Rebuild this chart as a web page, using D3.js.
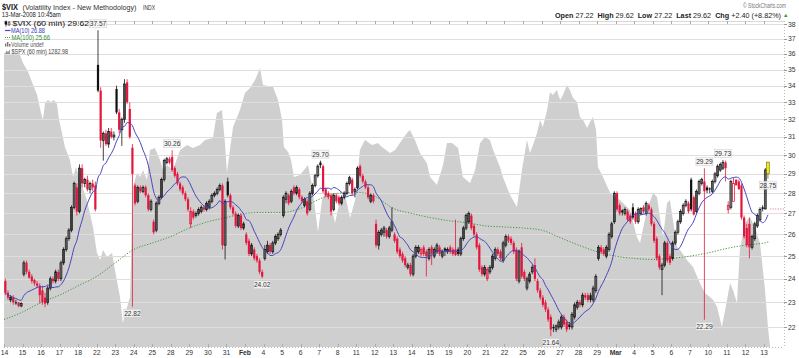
<!DOCTYPE html>
<html><head><meta charset="utf-8">
<script src="https://cdn.jsdelivr.net/npm/d3@7"></script>
<style>
body{margin:0;background:#fff}
svg{display:block}
text{font-family:"Liberation Sans",Arial,sans-serif}
</style>
</head><body>
<svg id="c" width="799" height="358"></svg>
<script>
// ---------- DATA ----------
const dayLabels = ["14","15","16","17","18","22","23","24","25","28","29","30","31","Feb","4","5","6","7","8","11","12","13","14","15","19","20","21","22","25","26","27","28","29","Mar","4","5","6","7","10","11","12","13"];
const barsPerDay = 7;
const yTicks = [22,23,24,25,26,27,28,29,30,31,32,33,34,35,36,37,38];

const opens = [
23.9,23.4,23.1,23.2,23.0,23.0,22.85,
24.2,24.7,24.3,24.1,23.95,23.8,23.7,
23.5,23.2,23.0,23.6,24.0,23.9,24.3,
24.0,24.7,25.3,25.8,26.2,27.3,28.3,
27.1,29.3,28.5,28.7,28.2,28.5,28.4,
35.3,33.7,30.8,31.2,30.6,31.3,31.0,
33.8,32.4,31.4,32.0,34.2,32.6,30.4,
28.4,27.6,28.3,28.1,28.3,27.9,27.2,
26.6,26.2,27.5,27.8,28.7,29.6,29.8,
29.9,29.3,29.0,28.5,28.3,28.0,27.7,
26.5,27.1,26.9,27.0,27.1,27.3,27.2,
27.3,27.6,27.9,28.0,28.2,28.4,25.5,
28.6,27.9,27.3,27.0,26.4,26.9,26.3,
26.0,25.7,25.1,25.3,25.0,24.8,24.3,
24.9,25.2,25.5,25.2,25.6,25.8,26.0,
26.9,27.7,27.9,27.6,28.3,28.0,28.2,
27.8,27.4,27.6,27.2,28.0,28.4,28.9,
29.6,29.4,28.2,28.0,27.9,27.2,27.9,
27.8,27.5,27.8,28.0,28.5,28.7,28.1,
28.3,29.4,28.9,28.6,28.3,27.6,27.9,
26.5,25.5,26.0,26.1,26.2,25.9,26.2,
26.0,25.8,25.3,25.1,24.9,24.5,24.6,
24.2,25.0,25.2,25.1,25.4,25.2,24.9,
25.4,25.0,25.2,25.4,25.0,25.35,25.2,
25.4,25.3,25.3,25.3,25.1,25.8,26.3,
26.6,26.9,26.4,26.0,25.5,24.5,24.2,
24.0,24.3,24.5,24.9,25.3,25.2,24.8,
25.5,25.9,25.8,25.6,25.3,23.9,25.4,
24.3,23.6,23.9,24.3,24.6,23.9,23.5,
23.2,23.0,22.7,22.4,22.0,21.9,22.0,
22.0,22.4,22.2,22.1,22.0,22.4,22.8,
23.0,22.9,23.3,23.3,23.3,23.1,23.5,
24.9,25.4,25.3,25.0,25.3,25.9,26.6,
28.0,27.4,27.15,27.0,27.1,26.9,27.3,
27.0,26.6,27.0,27.3,27.0,27.4,27.2,
26.5,25.8,25.0,24.4,24.6,25.6,25.0,
24.9,25.6,26.1,26.6,27.0,27.4,27.5,
28.7,27.8,27.1,28.0,28.5,28.6,28.3,
28.25,28.1,28.6,28.9,29.2,29.3,29.6,
27.2,27.3,27.6,28.7,28.6,28.4,26.8,
26.3,26.5,25.4,25.8,26.4,26.7,27.3,
27.22,29.0];
const highs = [
24.0,23.5,23.3,23.3,23.1,23.0,23.0,
24.8,24.8,24.4,24.2,24.0,23.9,23.8,
23.7,23.4,23.7,24.1,24.1,24.4,24.4,
24.8,25.4,25.9,26.3,27.4,28.6,28.5,
29.5,29.5,28.8,28.9,28.6,28.7,28.6,
37.57,33.9,31.3,31.4,31.5,31.5,31.3,
34.0,32.6,32.1,34.4,34.4,33.0,30.6,
28.5,28.4,28.4,28.4,28.4,28.0,27.7,
26.7,27.6,27.9,28.8,29.8,29.9,29.9,
30.26,29.4,29.1,28.6,28.4,28.1,27.8,
27.3,27.2,27.1,27.3,27.4,27.4,27.6,
27.7,28.0,28.1,28.3,28.5,28.5,27.7,
28.8,28.0,27.4,27.1,27.0,27.0,26.6,
26.1,25.8,25.6,25.4,25.1,24.9,24.4,
25.5,25.7,25.6,25.7,26.0,26.1,26.3,
27.9,28.1,28.0,28.2,28.4,28.4,28.3,
27.9,27.8,27.7,28.1,28.5,29.0,29.5,
29.7,29.5,28.3,28.1,28.0,28.0,28.0,
27.9,27.9,28.1,28.6,28.9,28.8,28.3,
29.4,29.5,29.0,28.7,28.4,28.0,28.0,
26.7,26.2,26.3,26.4,26.3,26.4,27.3,
26.1,25.9,25.4,25.2,25.0,24.7,24.7,
25.1,25.5,25.5,25.4,25.5,25.3,25.4,
25.5,25.4,25.6,25.5,25.3,25.4,25.4,
25.5,25.4,26.7,25.4,25.9,26.4,27.0,
27.1,27.0,26.5,26.1,25.6,24.6,24.6,
24.5,24.6,25.1,25.4,25.4,25.3,25.7,
26.0,26.0,25.9,25.7,25.4,25.3,25.6,
24.4,24.1,24.3,24.6,24.9,24.0,23.6,
23.3,23.1,22.8,22.5,22.1,22.1,22.3,
22.5,22.5,22.3,22.2,22.6,23.0,23.1,
23.1,23.4,23.4,23.4,23.4,23.7,24.2,
25.5,25.5,25.4,25.5,26.1,26.6,28.1,
28.1,27.5,27.2,27.3,27.2,27.0,27.5,
27.1,27.3,27.3,27.4,27.6,27.5,27.3,
26.6,25.9,25.1,24.7,25.7,25.7,25.1,
25.7,26.2,26.7,27.2,27.5,27.7,27.6,
28.8,27.9,28.2,28.7,28.8,29.29,28.4,
28.3,28.7,29.1,29.5,29.6,29.73,29.7,
27.6,28.7,28.8,28.7,28.7,28.5,26.9,
26.5,26.8,26.0,26.6,27.0,27.3,27.4,
29.3,29.62];
const lows = [
23.3,23.1,23.0,22.9,22.9,22.8,22.8,
24.1,24.2,24.0,23.8,23.7,23.6,22.95,
22.9,22.8,22.9,23.5,23.8,23.8,23.9,
23.9,24.6,25.2,25.7,26.1,27.2,26.9,
27.0,28.3,28.3,28.1,28.0,28.1,27.1,
33.6,30.4,29.7,30.5,30.4,30.9,30.8,
32.3,31.2,30.5,31.8,32.9,30.9,22.82,
27.4,27.5,28.0,28.0,27.8,27.1,27.1,
26.0,26.1,27.4,27.7,28.6,29.5,29.5,
29.1,28.8,28.4,28.1,27.9,27.6,27.1,
26.3,26.7,26.8,26.9,27.0,27.1,27.1,
27.2,27.5,27.8,27.9,28.1,25.3,24.85,
27.8,27.2,26.9,26.3,26.3,26.2,26.2,
25.5,25.0,25.0,24.8,24.7,24.2,24.02,
24.8,25.1,25.1,25.1,25.5,25.7,25.9,
26.8,27.5,27.4,27.5,27.9,27.9,27.7,
27.5,27.3,26.9,27.1,27.9,28.3,28.8,
29.3,28.0,27.8,27.7,26.9,27.1,27.5,
27.4,27.4,27.7,27.9,28.4,27.9,27.8,
28.2,28.8,28.5,28.2,27.7,27.5,27.5,
25.4,25.3,25.9,25.9,25.8,25.8,26.1,
25.6,25.1,24.9,24.7,24.5,24.4,24.1,
24.1,24.9,25.1,25.0,25.0,24.1,24.8,
24.6,24.9,25.1,25.0,24.9,25.0,25.1,
25.1,25.0,25.0,25.0,25.0,25.7,26.2,
26.5,26.2,25.9,25.3,24.3,24.1,24.1,
23.9,24.2,24.4,24.8,25.0,24.8,24.7,
25.4,25.6,25.5,25.1,23.9,23.8,24.0,
23.9,23.5,23.8,24.2,23.9,23.4,23.1,
22.8,22.6,22.2,21.64,21.8,21.8,21.9,
21.9,22.0,21.8,21.9,21.9,22.3,22.7,
22.8,22.8,23.1,23.0,23.0,23.0,23.4,
24.8,25.1,25.0,24.9,25.2,25.8,26.5,
27.1,26.9,26.9,26.9,26.6,26.5,26.7,
26.5,26.5,26.9,27.0,26.9,27.1,26.4,
25.6,24.8,24.4,23.3,24.5,24.7,24.6,
24.8,25.5,26.0,26.5,26.9,27.3,27.0,
27.1,26.9,27.0,27.9,28.4,22.29,28.0,
28.0,28.0,28.5,28.8,29.1,29.2,28.6,
27.0,27.2,28.5,28.5,28.2,26.7,25.8,
25.4,24.9,25.3,25.7,26.3,26.6,27.1,
27.2,28.75];
const closes = [
23.4,23.2,23.2,23.0,23.0,22.85,22.95,
24.7,24.3,24.05,23.9,23.8,23.7,23.3,
23.0,22.95,23.6,24.0,23.9,24.3,24.0,
24.7,25.3,25.8,26.2,27.3,28.5,27.1,
29.3,28.5,28.7,28.2,28.5,28.3,27.2,
33.7,30.8,31.2,30.6,31.3,31.0,31.1,
32.4,31.4,32.0,34.1,33.0,31.0,29.0,
27.5,28.3,28.1,28.3,27.9,27.2,27.6,
26.1,27.5,27.8,28.7,29.7,29.8,29.6,
29.2,28.9,28.5,28.2,28.0,27.7,27.2,
27.1,26.8,27.0,27.2,27.3,27.2,27.5,
27.6,27.9,28.0,28.2,28.4,25.5,27.6,
27.9,27.3,27.0,26.4,26.9,26.3,26.5,
25.6,25.1,25.5,24.9,24.8,24.3,24.1,
25.3,25.5,25.2,25.6,25.9,26.0,26.2,
27.8,28.0,27.5,28.1,28.0,28.3,27.8,
27.6,27.7,27.0,28.0,28.4,28.9,29.4,
29.45,28.1,27.9,27.8,27.1,27.9,27.6,
27.5,27.8,28.0,28.5,28.8,28.0,28.2,
29.3,28.9,28.6,28.3,27.8,27.9,27.6,
25.5,26.1,26.2,26.3,25.9,26.3,26.6,
25.7,25.2,25.0,24.8,24.6,24.6,24.2,
25.0,25.4,25.4,25.3,25.1,25.0,25.3,
25.1,25.3,25.5,25.1,25.2,25.25,25.3,
25.2,25.1,25.05,25.1,25.8,26.3,26.9,
27.0,26.3,26.0,25.4,24.4,24.2,24.5,
24.4,24.5,25.0,25.3,25.1,24.9,25.6,
25.9,25.7,25.6,25.2,24.0,25.2,24.1,
24.0,24.0,24.2,24.5,24.0,23.5,23.2,
22.9,22.7,22.3,21.9,21.95,22.05,22.2,
22.4,22.1,21.9,22.0,22.5,22.9,23.0,
22.9,23.3,23.2,23.1,23.1,23.6,24.1,
25.4,25.2,25.1,25.4,26.0,26.5,28.0,
27.2,27.0,27.05,27.2,26.7,26.6,26.8,
26.6,27.2,27.25,27.1,27.5,27.2,26.5,
25.7,24.9,24.5,24.6,25.6,24.8,24.7,
25.6,26.1,26.6,27.1,27.4,27.6,27.1,
27.2,26.95,28.1,28.6,28.7,28.1,28.15,
28.2,28.6,29.0,29.4,29.5,29.6,29.3,
27.4,28.6,28.5,28.4,28.2,26.8,25.9,
25.5,25.4,25.9,26.5,26.9,27.2,27.22,
29.2,29.62];

// 100-period moving average, read at the start of each day, plus the last bar
const ma100Bars = [0,7,14,21,28,35,42,49,56,63,70,77,84,91,98,105,112,119,126,133,140,147,154,161,168,175,182,189,196,203,210,217,224,231,238,245,252,259,266,273,280,287,289];
const ma100Vals = [22.3,22.6,23.0,23.3,23.7,24.1,24.7,25.3,25.6,25.9,26.3,26.6,26.8,27.0,27.05,27.05,27.25,27.7,28.0,28.05,27.85,27.25,27.0,26.8,26.65,26.55,26.4,26.35,26.3,26.2,25.85,25.5,25.2,25.0,24.9,24.85,24.9,25.0,25.15,25.35,25.5,25.6,25.66];

// $SPX overlay (area), sampled along the bar axis
const spxBars = [0,6.0,7.2,9.1,11.0,12.5,14.0,14.7,15.5,16.6,17.7,18.9,20.0,20.8,21.9,23.0,24.9,26.1,27.2,28.7,31.3,33.6,35.1,36.3,37.4,38.9,40.8,41.9,43.8,44.9,46.5,47.6,48.7,50.2,51.4,52.5,54.0,55.1,57.0,58.9,60.0,61.6,63.8,66.5,69.1,71.4,74.0,75.9,78.9,80.4,82.3,83.5,84.2,85.3,86.5,89.1,91.0,92.9,94.8,96.7,97.8,101.6,103.5,105.0,105.7,107.3,108.4,109.5,111.8,113.3,114.8,116.3,118.6,120.1,121.6,123.1,125.0,126.9,128.8,130.7,132.6,134.4,136.3,139.0,141.2,142.7,145.8,147.7,149.5,152.2,153.3,155.2,157.1,159.7,160.9,163.5,165.8,167.3,169.2,171.5,173.3,176.0,177.9,179.8,181.6,183.5,184.7,187.3,188.4,191.1,193.7,195.6,197.5,198.6,199.8,201.3,202.4,203.5,205.1,206.2,207.3,208.8,210.0,211.1,212.6,213.7,214.9,216.4,217.5,218.7,220.2,221.3,222.4,223.6,224.3,226.2,228.9,232.6,236.4,239.0,240.2,242.8,245.1,246.6,247.7,248.9,250.4,251.5,252.6,254.2,255.3,257.9,260.2,262.8,264.7,266.6,267.8,269.3,271.1,272.7,274.2,275.3,276.8,277.9,279.8,281.7,283.6,285.5,287.4,288.5,289.3];
const spxVals = [1415.8,1414.7,1410.5,1405.6,1398.6,1393.3,1383.6,1379.9,1389.0,1390.6,1389.5,1390.6,1388.4,1379.9,1372.9,1365.4,1358.4,1349.3,1354.6,1347.6,1336.9,1322.4,1308.5,1304.7,1310.1,1306.3,1308.5,1299.3,1284.8,1270.9,1279.5,1284.8,1343.9,1351.4,1349.3,1353.0,1347.6,1363.8,1364.8,1358.4,1353.0,1355.7,1353.0,1363.8,1366.4,1364.8,1366.4,1369.1,1370.2,1383.6,1385.2,1366.4,1351.4,1363.8,1376.1,1385.2,1394.3,1397.0,1401.3,1407.8,1398.6,1397.6,1390.6,1379.9,1365.4,1362.7,1358.4,1349.3,1350.3,1353.0,1355.7,1345.0,1319.7,1336.9,1342.3,1336.9,1324.6,1336.9,1339.6,1327.3,1336.9,1363.8,1369.1,1366.4,1367.5,1365.4,1362.1,1363.8,1367.5,1372.9,1374.5,1369.1,1362.1,1356.8,1349.3,1345.0,1355.7,1367.5,1367.5,1364.8,1349.3,1346.0,1353.0,1367.5,1370.7,1369.1,1363.8,1354.6,1349.3,1339.6,1333.2,1353.0,1369.1,1362.1,1366.4,1372.9,1379.9,1376.1,1385.2,1394.9,1393.3,1396.0,1390.6,1393.3,1398.6,1396.0,1391.7,1389.5,1381.5,1379.9,1375.6,1378.8,1381.5,1374.5,1354.6,1349.3,1340.7,1336.9,1331.5,1317.1,1313.8,1331.5,1340.7,1338.5,1327.8,1317.1,1335.3,1336.9,1326.2,1311.7,1310.1,1304.7,1300.9,1292.4,1287.0,1284.8,1283.2,1279.5,1268.7,1280.5,1292.4,1288.6,1281.6,1310.1,1324.6,1327.8,1321.9,1313.8,1288.6,1268.7,1258.0];

// labelled swing highs / lows
const markBars = [35,63,119,264,271,48,97,206,264,288];
const markVals = [37.57,30.26,29.70,29.29,29.73,22.82,24.02,21.64,22.29,28.75];
const markSide = ["hi","hi","hi","hi","hi","lo","lo","lo","lo","lo"];
const prevClose = 27.22;

// ---------- CHART ----------
const svg = d3.select("#c");
const L = 4, R = 784, T = 21, B = 347;
const nBars = closes.length;
const x = d3.scaleLinear().domain([0, 289]).range([4, 4 + 2.648 * 289]);
const y = d3.scaleLog().domain([38, 22]).range([24, 327]);
const ys = d3.scaleLinear().domain([1258, 1433]).range([B, T]);

svg.append("defs").append("clipPath").attr("id","pc")
  .append("rect").attr("x",L).attr("y",T).attr("width",R-L).attr("height",B-T);
const g = svg.append("g").attr("clip-path","url(#pc)");

// SPX area
const spx = spxBars.map((b,k)=>({b, v: spxVals[k]}));
g.append("path").datum(spx)
  .attr("d", d3.area().x(d=>x(d.b)).y0(B).y1(d=>ys(d.v)))
  .attr("fill","#cfcfcf");

// horizontal grid
g.selectAll("line.grid").data(yTicks).join("line")
  .attr("x1",L).attr("x2",R).attr("y1",d=>Math.round(y(d))+0.5).attr("y2",d=>Math.round(y(d))+0.5)
  .attr("stroke","#e3dcdc").attr("stroke-width",1);

// frame
svg.append("line").attr("x1",L).attr("x2",R).attr("y1",T+0.5).attr("y2",T+0.5).attr("stroke","#d8d8d8");
svg.append("line").attr("x1",L).attr("x2",R).attr("y1",B+0.5).attr("y2",B+0.5).attr("stroke","#bbb").attr("stroke-dasharray","1,2");
svg.append("line").attr("x1",R+0.5).attr("x2",R+0.5).attr("y1",T).attr("y2",B).attr("stroke","#bbb").attr("stroke-dasharray","1,2");

// day ticks
const dayIdx = d3.range(dayLabels.length);
svg.selectAll("line.dt").data(dayIdx).join("line")
  .attr("x1",d=>Math.round(x(d*barsPerDay))+0.5).attr("x2",d=>Math.round(x(d*barsPerDay))+0.5)
  .attr("y1",T).attr("y2",T+3).attr("stroke","#aaa");
svg.selectAll("line.db").data(dayIdx).join("line")
  .attr("x1",d=>Math.round(x(d*barsPerDay))+0.5).attr("x2",d=>Math.round(x(d*barsPerDay))+0.5)
  .attr("y1",B-3).attr("y2",B).attr("stroke","#aaa");

// MA(100)
g.append("path").datum(ma100Bars.map((b,k)=>({b, v: ma100Vals[k]})))
  .attr("d", d3.line().x(d=>x(d.b)).y(d=>y(d.v)).curve(d3.curveMonotoneX))
  .attr("fill","none").attr("stroke","#3a9a3a").attr("stroke-width",1).attr("stroke-dasharray","1.2,1.6");

// candles
const RED = "#e3173e", BLK = "#111";
const bars = d3.range(nBars).map(i=>({i, o:opens[i], h:highs[i], l:lows[i], c:closes[i], pc: i>0?closes[i-1]:opens[i]}));
const cg = g.append("g");
bars.forEach(d=>{
  const last = d.i === nBars-1;
  const col = last ? "#6b6b00" : (d.c >= d.pc ? BLK : RED);
  const cx = x(d.i + 0.5);
  cg.append("line").attr("x1",cx).attr("x2",cx).attr("y1",y(d.h)).attr("y2",y(d.l))
    .attr("stroke",col).attr("stroke-width",0.8);
  const top = y(Math.max(d.o,d.c)), bot = y(Math.min(d.o,d.c));
  const hgt = Math.max(1, bot-top);
  const hollow = d.c >= d.o;
  if (last) {
    cg.append("rect").attr("x",cx-1.3).attr("y",top).attr("width",2.6).attr("height",hgt)
      .attr("fill","#f0ee10").attr("stroke",col).attr("stroke-width",0.6);
  } else if (hollow && hgt > 1.5) {
    cg.append("rect").attr("x",cx-0.95).attr("y",top).attr("width",1.9).attr("height",hgt)
      .attr("fill","none").attr("stroke",col).attr("stroke-width",0.75);
  } else {
    cg.append("rect").attr("x",cx-1.1).attr("y",top).attr("width",2.2).attr("height",hgt)
      .attr("fill",col);
  }
});

// MA(10) computed from closes
const ma10 = closes.map((c,i)=>{ const s = closes.slice(Math.max(0,i-9), i+1); return d3.mean(s); });
g.append("path").datum(ma10)
  .attr("d", d3.line().x((d,i)=>x(i+0.5)).y(d=>y(d)).curve(d3.curveMonotoneX))
  .attr("fill","none").attr("stroke","#4646c0").attr("stroke-width",1);

// previous close marker
svg.append("line").attr("x1",x(nBars)+1).attr("x2",R).attr("y1",y(prevClose)).attr("y2",y(prevClose))
  .attr("stroke","#d77090").attr("stroke-dasharray","1,1.5");

// high/low labels
markBars.forEach((b,k)=>{
  const v = markVals[k], hi = markSide[k]==="hi";
  const tx = Math.min(x(b+0.5), 776);
  const ty = hi ? y(v)-4 : y(v)+9;
  svg.append("rect").attr("x",tx-8.5).attr("y",ty-6.5).attr("width",17).attr("height",8)
    .attr("fill","#f6f6f6").attr("fill-opacity",0.85).attr("stroke","#c9c9c9").attr("stroke-width",0.5);
  svg.append("text").attr("x",tx).attr("y",ty).attr("text-anchor","middle")
    .attr("font-size",6.6).attr("fill","#333").text(v.toFixed(2));
});

// right axis
svg.selectAll("line.yt").data(yTicks).join("line")
  .attr("x1",R).attr("x2",R+3).attr("y1",d=>Math.round(y(d))+0.5).attr("y2",d=>Math.round(y(d))+0.5).attr("stroke","#999");
svg.selectAll("text.yl").data(yTicks).join("text")
  .attr("x",788).attr("y",d=>y(d)+2.5).attr("font-size",6.8).attr("fill","#333").text(d=>d);

// x labels
svg.selectAll("text.xl").data(dayIdx).join("text")
  .attr("x",d=>Math.max(4.5, x(d*barsPerDay))).attr("y",355).attr("text-anchor","middle")
  .attr("font-size",6.8).attr("fill","#333")
  .attr("font-weight",d=>(dayLabels[d]==="Feb"||dayLabels[d]==="Mar")?"bold":"normal")
  .text(d=>dayLabels[d]);

// header
svg.append("text").attr("x",2).attr("y",9.5).attr("font-size",9.5).attr("font-weight","bold")
  .attr("textLength",16).attr("lengthAdjust","spacingAndGlyphs").attr("fill","#111").text("$VIX");
svg.append("text").attr("x",22.5).attr("y",9.5).attr("font-size",7.4)
  .attr("textLength",114).attr("lengthAdjust","spacingAndGlyphs").attr("fill","#333").text("(Volatility Index - New Methodology)");
svg.append("text").attr("x",143).attr("y",9.5).attr("font-size",6.4)
  .attr("textLength",12).attr("lengthAdjust","spacingAndGlyphs").attr("fill","#333").text("INDX");
svg.append("text").attr("x",1.8).attr("y",17.2).attr("font-size",7)
  .attr("textLength",59).attr("lengthAdjust","spacingAndGlyphs").attr("fill","#222").text("13-Mar-2008 10:45am");
svg.append("text").attr("x",786).attr("y",7.8).attr("text-anchor","end").attr("font-size",6.4)
  .attr("textLength",43).attr("lengthAdjust","spacingAndGlyphs").attr("fill","#777").text("\u00a9 StockCharts.com");
const hdr = svg.append("text").attr("x",781).attr("y",17.5).attr("text-anchor","end").attr("font-size",7.3).attr("fill","#222")
  .attr("textLength",226).attr("lengthAdjust","spacingAndGlyphs");
[["Open",true],[" 27.22  ",false],["High",true],[" 29.62  ",false],["Low",true],[" 27.22  ",false],["Last",true],[" 29.62  ",false],["Chg",true],[" +2.40 (+8.82%)",false]]
  .forEach(([t,b])=>hdr.append("tspan").attr("font-weight",b?"bold":"normal").attr("xml:space","preserve").text(t));
svg.append("text").attr("x",783).attr("y",17.3).attr("font-size",5.5).attr("fill","#2a9a2a").text("\u25B2");

// legend
const lg = svg.append("g");
lg.append("line").attr("x1",6).attr("x2",6).attr("y1",20.5).attr("y2",26.5).attr("stroke","#111").attr("stroke-width",0.8);
lg.append("rect").attr("x",5).attr("y",21.5).attr("width",2).attr("height",3).attr("fill","#111");
lg.append("line").attr("x1",9).attr("x2",9).attr("y1",21).attr("y2",26).attr("stroke","#555").attr("stroke-width",0.8);
lg.append("rect").attr("x",8).attr("y",22.5).attr("width",2).attr("height",2.5).attr("fill","none").attr("stroke","#555").attr("stroke-width",0.6);
lg.append("text").attr("x",12.5).attr("y",25.8).attr("font-family","'DejaVu Sans Mono',monospace").attr("font-size",7.4)
  .attr("textLength",76.5).attr("lengthAdjust","spacingAndGlyphs").attr("fill","#111").text("$VIX (60 min) 29.62");
lg.append("line").attr("x1",5).attr("x2",10.5).attr("y1",30.5).attr("y2",30.5).attr("stroke","#4646c0").attr("stroke-width",1.2);
lg.append("text").attr("x",11).attr("y",32.6).attr("font-size",6.8).attr("textLength",34).attr("lengthAdjust","spacingAndGlyphs")
  .attr("fill","#3535b5").text("MA(10) 26.88");
lg.append("line").attr("x1",5).attr("x2",11).attr("y1",37.5).attr("y2",37.5).attr("stroke","#3a9a3a").attr("stroke-width",1).attr("stroke-dasharray","1,1");
lg.append("text").attr("x",11.5).attr("y",39.6).attr("font-size",6.8).attr("textLength",38.5).attr("lengthAdjust","spacingAndGlyphs")
  .attr("fill","#2e8b2e").text("MA(100) 25.66");
[[5,43.5,3],[7,42,4.5],[9,44,2.5]].forEach(([bx,by,bh])=>lg.append("rect").attr("x",bx).attr("y",by).attr("width",1.4).attr("height",bh).attr("fill","#777"));
lg.append("text").attr("x",11).attr("y",46.8).attr("font-size",6.8).attr("textLength",32.5).attr("lengthAdjust","spacingAndGlyphs")
  .attr("fill","#555").text("Volume undef");
lg.append("path").attr("d","M5,54 L6.5,50.5 L8,52 L10,49.5 L10,54 Z").attr("fill","#999");
lg.append("text").attr("x",11.5).attr("y",53.6).attr("font-size",6.8).attr("textLength",56.5).attr("lengthAdjust","spacingAndGlyphs")
  .attr("fill","#444").text("$SPX (60 min) 1282.98");
</script>
</body></html>
